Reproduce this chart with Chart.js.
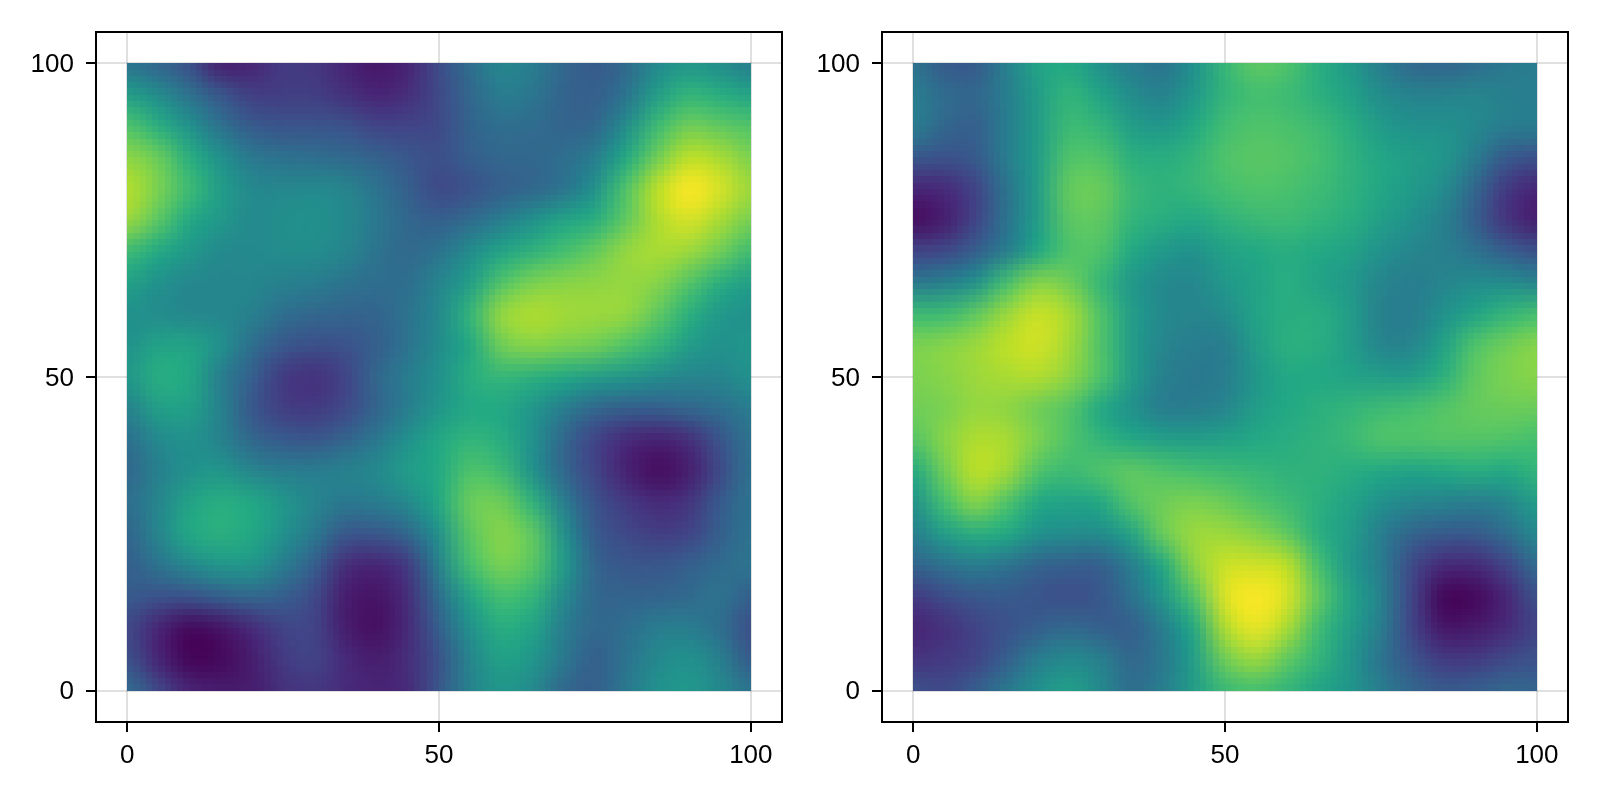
<!DOCTYPE html>
<html><head><meta charset="utf-8">
<style>html,body{margin:0;padding:0;background:#fff;width:1600px;height:800px;overflow:hidden}
canvas{position:absolute;top:0}</style>
<script src="https://cdn.jsdelivr.net/npm/chart.js@4"></script>
</head><body>
<canvas id="c1" width="800" height="800" style="left:0"></canvas>
<canvas id="c2" width="800" height="800" style="left:800px"></canvas>
<script>
const gridX=[0,5,10,15,20,25,30,35,40,45,50,55,60,65,70,75,80,85,90,95,100];
const gridY=[100,95,90,85,80,75,70,65,60,55,50,45,40,35,30,25,20,15,10,5,0];
const tickValues=[0,50,100];
const viridis=['#440154','#482475','#414487','#355f8d','#2a788e','#21918c','#22a884','#44bf70','#7ad151','#bddf26','#fde725'];
const leftValues=[
[.38,.32,.24,.08,.10,.17,.16,.10,.06,.10,.23,.36,.46,.42,.33,.28,.34,.47,.52,.48,.42],
[.55,.48,.37,.27,.18,.18,.18,.14,.10,.13,.22,.33,.42,.39,.32,.30,.38,.55,.65,.62,.58],
[.72,.62,.50,.37,.28,.26,.26,.25,.20,.20,.22,.32,.36,.35,.32,.33,.48,.68,.78,.75,.72],
[.83,.77,.62,.50,.40,.37,.36,.34,.31,.27,.24,.30,.33,.33,.36,.42,.60,.78,.90,.87,.80],
[.89,.80,.68,.55,.47,.46,.47,.45,.38,.30,.22,.25,.30,.33,.38,.50,.72,.90,1.0,.94,.85],
[.85,.74,.60,.53,.47,.49,.50,.47,.40,.33,.30,.35,.42,.50,.58,.62,.75,.88,.94,.87,.79],
[.68,.60,.53,.47,.47,.48,.48,.45,.38,.34,.38,.48,.58,.64,.70,.76,.84,.87,.85,.78,.68],
[.57,.50,.46,.46,.46,.43,.42,.38,.36,.36,.45,.55,.72,.80,.82,.83,.84,.82,.73,.62,.55],
[.50,.48,.46,.46,.43,.36,.33,.32,.32,.38,.47,.65,.84,.88,.86,.85,.84,.75,.63,.53,.50],
[.50,.58,.58,.50,.36,.27,.24,.25,.30,.38,.48,.60,.78,.82,.80,.78,.72,.65,.55,.50,.52],
[.52,.62,.60,.42,.30,.17,.14,.20,.33,.42,.50,.62,.66,.63,.60,.55,.52,.48,.45,.45,.50],
[.44,.56,.56,.44,.27,.18,.17,.22,.32,.42,.52,.60,.60,.52,.42,.33,.30,.30,.33,.36,.42],
[.36,.47,.50,.44,.33,.28,.27,.32,.40,.50,.60,.65,.62,.50,.33,.20,.12,.09,.13,.26,.38],
[.33,.43,.50,.52,.45,.42,.42,.44,.47,.55,.60,.72,.68,.50,.33,.20,.09,.03,.08,.22,.38],
[.36,.45,.58,.62,.60,.52,.45,.40,.42,.47,.60,.77,.78,.64,.42,.25,.17,.12,.15,.28,.38],
[.32,.45,.60,.63,.60,.50,.40,.27,.27,.33,.50,.74,.82,.75,.50,.28,.22,.18,.20,.30,.38],
[.30,.38,.47,.52,.52,.42,.30,.13,.10,.17,.44,.70,.80,.74,.54,.32,.27,.27,.30,.35,.38],
[.28,.25,.25,.30,.33,.30,.22,.08,.05,.13,.36,.58,.70,.65,.47,.33,.32,.32,.34,.38,.30],
[.22,.10,.02,.05,.12,.20,.20,.08,.04,.12,.30,.50,.62,.58,.42,.33,.36,.42,.42,.36,.24],
[.25,.10,.01,.02,.08,.17,.20,.12,.08,.13,.25,.45,.57,.52,.40,.30,.38,.47,.50,.43,.28],
[.35,.22,.10,.08,.08,.14,.16,.12,.10,.12,.27,.44,.52,.47,.33,.30,.40,.50,.53,.47,.38]];
const rightValues=[
[.38,.28,.28,.43,.58,.60,.50,.42,.38,.50,.66,.75,.72,.62,.54,.42,.33,.32,.35,.40,.42],
[.42,.35,.33,.42,.55,.65,.58,.48,.44,.53,.65,.70,.68,.63,.57,.48,.44,.44,.45,.43,.42],
[.42,.33,.30,.42,.55,.68,.65,.55,.52,.60,.69,.72,.71,.68,.62,.54,.50,.50,.47,.42,.42],
[.28,.25,.28,.42,.55,.72,.72,.63,.62,.65,.72,.74,.73,.70,.64,.59,.55,.52,.42,.28,.25],
[.10,.12,.20,.38,.55,.76,.77,.67,.64,.66,.70,.72,.71,.68,.64,.59,.54,.48,.33,.17,.10],
[.03,.08,.20,.38,.55,.74,.75,.65,.62,.60,.64,.67,.68,.65,.62,.56,.50,.43,.30,.15,.08],
[.20,.22,.30,.42,.60,.72,.72,.60,.53,.50,.57,.60,.62,.60,.57,.50,.45,.43,.38,.30,.25],
[.40,.43,.50,.70,.82,.78,.66,.53,.47,.46,.53,.58,.62,.58,.53,.45,.42,.45,.48,.48,.45],
[.68,.68,.75,.85,.92,.87,.72,.55,.47,.45,.48,.58,.62,.62,.55,.43,.42,.50,.58,.65,.70],
[.80,.82,.85,.90,.93,.86,.72,.55,.45,.42,.42,.55,.63,.62,.55,.45,.45,.57,.72,.78,.82],
[.80,.82,.85,.87,.88,.83,.72,.55,.43,.40,.42,.52,.60,.60,.58,.55,.55,.63,.75,.80,.82],
[.78,.80,.84,.83,.78,.73,.60,.50,.42,.42,.45,.55,.60,.63,.65,.68,.70,.73,.76,.77,.77],
[.73,.82,.88,.87,.80,.72,.65,.60,.56,.55,.57,.60,.62,.64,.67,.72,.72,.73,.73,.72,.70],
[.60,.78,.90,.86,.72,.68,.72,.75,.72,.70,.68,.66,.64,.64,.62,.60,.58,.60,.62,.60,.65],
[.50,.70,.82,.72,.60,.58,.60,.73,.78,.80,.77,.72,.68,.63,.58,.50,.46,.44,.42,.45,.55],
[.42,.55,.62,.60,.50,.48,.48,.58,.77,.85,.85,.82,.75,.62,.55,.42,.32,.28,.28,.35,.47],
[.32,.37,.42,.38,.32,.30,.30,.42,.60,.83,.92,.93,.90,.70,.53,.42,.22,.12,.12,.20,.35],
[.17,.23,.27,.28,.26,.24,.27,.37,.52,.72,.95,1.0,.94,.75,.58,.44,.20,.01,.02,.10,.25],
[.10,.14,.20,.25,.30,.34,.30,.30,.42,.60,.88,.97,.87,.68,.55,.42,.20,.06,.07,.12,.20],
[.15,.17,.20,.30,.42,.47,.43,.33,.40,.55,.78,.85,.75,.65,.52,.38,.26,.17,.17,.22,.25],
[.25,.22,.30,.40,.50,.56,.47,.36,.42,.55,.67,.70,.65,.58,.52,.42,.33,.28,.30,.33,.32]];

function hexRgb(h){return [1,3,5].map(i=>parseInt(h.substr(i,2),16));}
function colorOf(v){
  const t=Math.max(0,Math.min(1,v))*(viridis.length-1), i=Math.min(Math.floor(t),viridis.length-2), f=t-i;
  const a=hexRgb(viridis[i]), b=hexRgb(viridis[i+1]);
  return 'rgb('+a.map((c,k)=>Math.round(c+(b[k]-c)*f)).join(',')+')';
}
function pointsFrom(values){
  const out=[];
  gridY.forEach((y,r)=>gridX.forEach((x,c)=>out.push({x,y,v:values[r][c]})));
  return out;
}
// Display resampling only (like an image viewer): the sample cells the chart drew
// are shown smoothed at 100x100 display blocks. The data stays what was read above.
const smoothCells={
  id:'smoothCells',
  beforeDatasetsDraw(chart){
    const cv=chart.canvas, s=document.createElement('canvas');
    s.width=cv.width; s.height=cv.height;
    s.getContext('2d').drawImage(cv,0,0);
    chart.$bg=s;
  },
  afterDatasetsDraw(chart){
    const {x:sx,y:sy}=chart.scales, ctx=chart.ctx, cv=chart.canvas;
    const n=gridX.length, half=(gridX[1]-gridX[0])/2;
    const x0=sx.getPixelForValue(gridX[0]-half), x1=sx.getPixelForValue(gridX[n-1]+half);
    const y0=sy.getPixelForValue(gridY[0]+half), y1=sy.getPixelForValue(gridY[n-1]-half);
    const a=document.createElement('canvas'); a.width=n; a.height=n;
    const actx=a.getContext('2d'); actx.imageSmoothingEnabled=false;
    actx.drawImage(cv,x0,y0,x1-x0,y1-y0,0,0,n,n);
    const b=document.createElement('canvas'); b.width=100; b.height=100;
    const bctx=b.getContext('2d'); bctx.imageSmoothingEnabled=true; bctx.imageSmoothingQuality='high';
    bctx.drawImage(a,.5,.5,n-1,n-1,0,0,100,100);
    ctx.save();
    ctx.setTransform(1,0,0,1,0,0);
    ctx.globalCompositeOperation='copy';
    ctx.drawImage(chart.$bg,0,0);
    ctx.globalCompositeOperation='source-over';
    ctx.imageSmoothingEnabled=false;
    const px=sx.getPixelForValue(0), py=sy.getPixelForValue(100);
    ctx.drawImage(b,px,py,sx.getPixelForValue(100)-px,sy.getPixelForValue(0)-py);
    ctx.restore();
  }
};
const frame={
  id:'frame',
  afterDraw(chart){
    const a=chart.chartArea, ctx=chart.ctx;
    ctx.save(); ctx.strokeStyle='#000'; ctx.lineWidth=2;
    ctx.strokeRect(a.left,a.top,a.right-a.left,a.bottom-a.top);
    ctx.restore();
  }
};
function axis(fit,pad,offset){
  return {
    type:'linear',min:-5,max:105,
    afterBuildTicks(s){s.ticks=tickValues.map(value=>({value}));},
    afterFit:fit,
    border:{display:false},
    grid:{color:'rgba(0,0,0,0.12)',lineWidth:2,tickColor:'#000',tickWidth:2,tickLength:10,drawTicks:true},
    ticks:{color:'#000',autoSkip:false,maxRotation:0,minRotation:0,padding:pad,labelOffset:offset,
      font:{family:'"Liberation Sans"',size:26}}
  };
}
function makeChart(id,values,yWidth,padRight){
  return new Chart(document.getElementById(id),{
    type:'scatter',
    data:{datasets:[{data:pointsFrom(values),pointStyle:'rect',borderWidth:0,pointBorderWidth:0,
      clip:false,
      pointRadius(c){const s=c.chart.scales.x;return (s.getPixelForValue(gridX[1])-s.getPixelForValue(gridX[0]))/Math.SQRT2+1;},
      pointBackgroundColor(c){return colorOf(c.raw.v);}}]},
    options:{responsive:false,animation:false,events:[],
      layout:{padding:{top:32,right:padRight,left:0,bottom:0}},
      plugins:{legend:{display:false},tooltip:{enabled:false}},
      scales:{x:axis(s=>{s.height=78;},8,0),y:axis(s=>{s.width=yWidth;},12,1.5)}},
    plugins:[smoothCells,frame]
  });
}
makeChart('c1',leftValues,96,18);
makeChart('c2',rightValues,82,32);
</script>
</body></html>
